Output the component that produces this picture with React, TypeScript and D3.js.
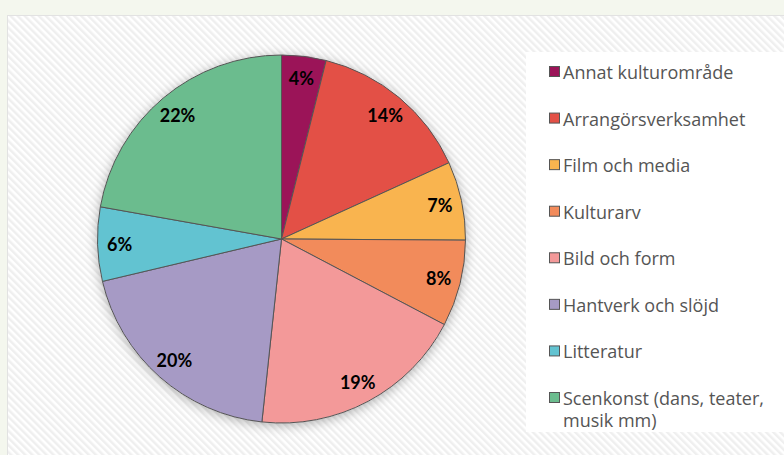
import React from "react";
import * as d3 from "d3";

const categories = [
  "Annat kulturområde",
  "Arrangörsverksamhet",
  "Film och media",
  "Kulturarv",
  "Bild och form",
  "Hantverk och slöjd",
  "Litteratur",
  "Scenkonst (dans, teater, musik mm)",
];
const values = [3.9, 14.3, 6.9, 7.6, 19.0, 19.6, 6.5, 22.2];
const labels = ["4%", "14%", "7%", "8%", "19%", "20%", "6%", "22%"];
const colors = ["#9b1458", "#e35046", "#f9b44f", "#f28b5b", "#f39999", "#a69ac5", "#62c3d1", "#6bbc8e"];
const legendLines = [
  ["Annat kulturområde"],
  ["Arrangörsverksamhet"],
  ["Film och media"],
  ["Kulturarv"],
  ["Bild och form"],
  ["Hantverk och slöjd"],
  ["Litteratur"],
  ["Scenkonst (dans, teater,", "musik mm)"],
];

export default function App() {
  const W = 784, H = 455;
  const cx = 281.5, cy = 239, r = 184;
  const pie = d3.pie<number>().sort(null).value((d) => d);
  const arcs = pie(values);
  const arc = d3.arc<d3.PieArcDatum<number>>().innerRadius(0).outerRadius(r);
  const labelArc = d3.arc<d3.PieArcDatum<number>>().innerRadius(r * 0.88).outerRadius(r * 0.88);
  const legendY = d3.scaleLinear().domain([0, 7]).range([72, 398]);

  return (
    <svg width={W} height={H} style={{ position: "absolute", left: 0, top: 0 }}>
      <defs>
        <pattern id="hatch" patternUnits="userSpaceOnUse" width="5" height="5" patternTransform="rotate(-45)">
          <rect width="5" height="5" fill="#ffffff" />
          <rect width="2.5" height="5" fill="#efefef" />
        </pattern>
        <filter id="shadow" x="-20%" y="-20%" width="140%" height="140%">
          <feDropShadow dx="0" dy="2" stdDeviation="6" floodColor="#000" floodOpacity="0.32" />
        </filter>
      </defs>
      <rect x={0} y={0} width={W} height={H} fill="#f4f7ee" />
      <rect x={7.5} y={15.5} width={W} height={H} fill="url(#hatch)" stroke="#e2e2e2" strokeWidth={1} />
      <rect x={526} y={52} width={W - 526} height={380} fill="#ffffff" />
      <g transform={`translate(${cx},${cy})`}>
        <circle r={r} fill="#fff" filter="url(#shadow)" />
        {arcs.map((a, i) => (
          <path key={i} d={arc(a) || ""} fill={colors[i]} stroke="#555" strokeWidth={1} />
        ))}
        {arcs.map((a, i) => {
          const [x, y] = labelArc.centroid(a);
          return (
            <text key={i} x={x} y={y} textAnchor="middle" dominantBaseline="central"
              fontFamily="Lato, sans-serif" fontWeight="bold" fontSize={18} fill="#000">
              {labels[i]}
            </text>
          );
        })}
      </g>
      {categories.map((c, i) => (
        <g key={c} transform={`translate(549,${legendY(i)})`}>
          <rect x={0.5} y={-5.5} width={10} height={10} fill={colors[i]} stroke="#555" strokeWidth={1} />
          <text x={14} y={0} dominantBaseline="central" fontFamily="'Open Sans', sans-serif" fontSize={18} fill="#555">
            {legendLines[i].map((l, j) => (
              <tspan key={j} x={14} dy={j === 0 ? 0 : 22}>{l}</tspan>
            ))}
          </text>
        </g>
      ))}
    </svg>
  );
}
